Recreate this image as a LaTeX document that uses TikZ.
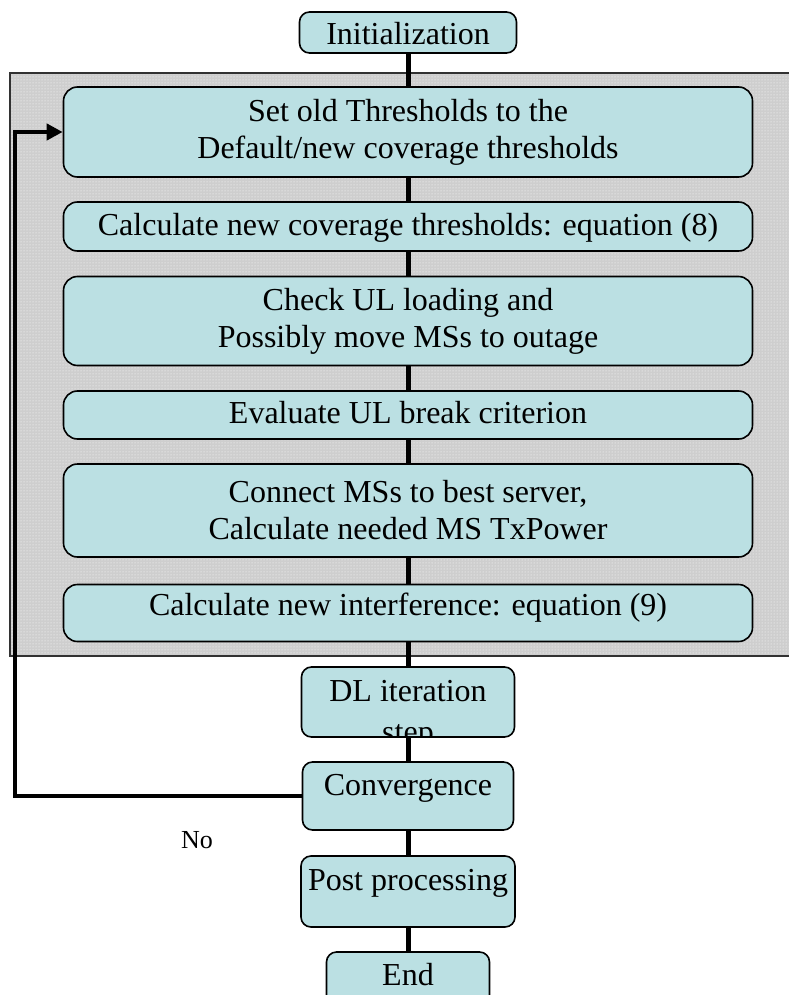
\documentclass[tikz,border=0pt]{standalone}
\usepackage{fontspec}
\setmainfont{Liberation Serif}
\usetikzlibrary{arrows.meta,patterns}
\definecolor{boxfill}{RGB}{187,224,227}
\definecolor{panelfill}{RGB}{206,206,206}
\definecolor{panelline}{RGB}{50,50,50}
\pgfdeclarelayer{bg}
\pgfsetlayers{bg,main}
\begin{document}
\begin{tikzpicture}[x=1pt,y=-1pt,
  flowbox/.style={draw=black, line width=1.6pt, fill=boxfill, rounded corners=14pt, inner sep=0pt, align=center, font=\fontsize{32}{37}\selectfont, minimum width=689pt},
  smallbox/.style={flowbox, rounded corners=10pt, minimum width=214pt},
  oneline/.style={text height=24pt, text depth=7pt},
  plaintext/.style={draw=none, fill=none, inner sep=0pt, minimum width=0pt, minimum height=0pt, anchor=base, font=\fontsize{32}{37}\selectfont},
  link/.style={line width=5pt},
  back/.style={line width=4pt, -{Triangle[length=16pt,width=16pt]}}]
\useasboundingbox (0,0) rectangle (789,995);

\node[smallbox, minimum width=217pt, minimum height=41pt, text height=25pt, text depth=0pt] (init) at (408,32.5) {Initialization};
\node[flowbox, minimum height=90pt] (b1) at (408,132) {Set old Thresholds to the\\Default/new coverage thresholds};
\node[flowbox, oneline, minimum height=49pt] (b2) at (408,226.5) {Calculate new coverage thresholds: equation (8)};
\node[flowbox, minimum height=89pt] (b3) at (408,321) {Check UL loading and\\Possibly move MSs to outage};
\node[flowbox, oneline, minimum height=48pt] (b4) at (408,415) {Evaluate UL break criterion};
\node[flowbox, minimum height=93pt] (b5) at (408,510.5) {Connect MSs to best server,\\Calculate needed MS TxPower};
\node[flowbox, minimum height=57pt, text height=18pt, text depth=14pt] (b6) at (408,613) {Calculate new interference: equation (9)};
\node[smallbox, minimum width=213pt, minimum height=70pt,
  path picture={
    \node[plaintext] (dlA) at ([yshift=1pt]path picture bounding box.center) {DL iteration};
    \node[plaintext] (dlB) at ([yshift=-40pt]path picture bounding box.center) {step};
  }] (dl) at (408,702) {};
\node[smallbox, minimum width=211pt, minimum height=68pt, text height=20pt, text depth=22pt] (conv) at (408,796) {Convergence};
\node[smallbox, minimum width=214pt, minimum height=71pt, text height=20pt, text depth=23pt] (post) at (408,891.5) {Post processing};
\node[smallbox, minimum width=163pt, minimum height=53pt, text height=20pt, text depth=7pt] (end) at (408,978.5) {End};
\node[plaintext, font=\fontsize{26}{30}\selectfont] (no) at (197,848) {No};

\coordinate (corner) at (15,796);

\begin{pgfonlayer}{bg}
  \fill[white] (0,0) rectangle (789,995);
  \fill[panelfill] (10,73) rectangle (830,656);
  \fill[pattern=dots, pattern color=white] (10,73) rectangle (830,656);
  \draw[panelline, line width=2pt] (10,73) rectangle (830,656);
  \draw[link] (init.south) -- (b1.north);
  \draw[link] (b1.south) -- (b2.north);
  \draw[link] (b2.south) -- (b3.north);
  \draw[link] (b3.south) -- (b4.north);
  \draw[link] (b4.south) -- (b5.north);
  \draw[link] (b5.south) -- (b6.north);
  \draw[link] (b6.south) -- (dl.north);
  \draw[link] (dl.south) -- (conv.north);
  \draw[link] (conv.south) -- (post.north);
  \draw[link] (post.south) -- (end.north);
  \draw[back] (conv.west) -- (corner) |- (b1.west);
\end{pgfonlayer}
\end{tikzpicture}
\end{document}
